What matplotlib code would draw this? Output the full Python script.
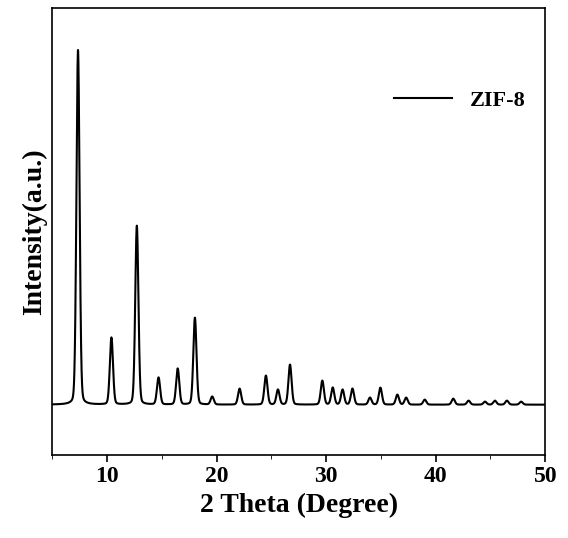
# ZIF-8 XRD pattern
import numpy as np
import matplotlib.pyplot as plt

plt.rcParams['font.family'] = ['Liberation Serif', 'DejaVu Serif']
plt.rcParams['font.weight'] = 'bold'

# peak positions (2 theta) and heights (a.u.)
peak_pos = [7.35, 10.4, 12.72, 14.7, 16.45, 18.02, 19.6, 22.1, 24.5, 25.6, 26.7,
            29.65, 30.6, 31.5, 32.4, 34.0, 34.95, 36.5, 37.3, 39.0, 41.6, 43.0,
            44.5, 45.4, 46.5, 47.8]
peak_height = [355, 67, 179, 27, 36, 87, 8, 16, 29, 15, 40,
               24, 17, 15, 16, 7, 17, 10, 7, 5, 6, 4,
               3, 4, 4, 3]
peak_width = 0.17

two_theta = np.linspace(5, 50, 4000)
intensity = np.zeros_like(two_theta)
for p, h in zip(peak_pos, peak_height):
    # pseudo-Voigt, mostly gaussian so the baseline stays flat
    g = np.exp(-((two_theta - p) / peak_width) ** 2 * np.log(2))
    l = 1 / (1 + ((two_theta - p) / peak_width) ** 2)
    intensity += h * (0.85 * g + 0.15 * l)

fig = plt.figure(figsize=(5.68, 5.38), dpi=100)
ax = fig.add_axes([0.092, 0.155, 0.868, 0.83])
ax.plot(two_theta, intensity, color='black', lw=1.5, label='ZIF-8')

ax.set_xlim(5, 50)
ax.set_ylim(-50, 397)
ax.set_xticks([10, 20, 30, 40, 50])
ax.set_xticks(np.arange(5, 51, 5), minor=True)
ax.set_yticks([])
ax.tick_params(axis='x', labelsize=17, width=1.2, length=5)
ax.tick_params(axis='x', which='minor', length=3)
for s in ax.spines.values():
    s.set_linewidth(1.2)

ax.set_xlabel('2 Theta (Degree)', fontsize=20, fontweight='bold')
ax.set_ylabel('Intensity(a.u.)', fontsize=20, fontweight='bold')
ax.legend(loc='upper right', bbox_to_anchor=(1.0, 0.86), frameon=False,
          prop={'size': 16, 'weight': 'bold'}, handlelength=2.6)

fig.savefig('out.png')
